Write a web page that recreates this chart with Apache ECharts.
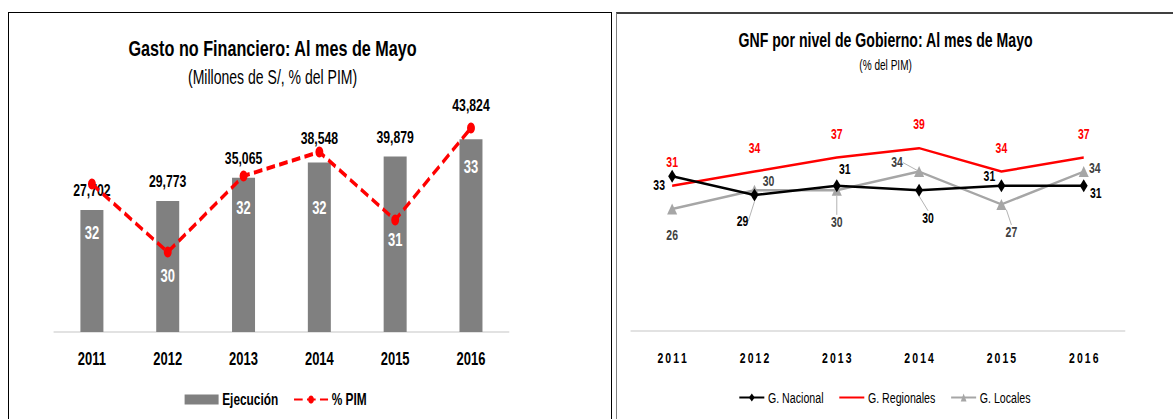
<!DOCTYPE html>
<html>
<head>
<meta charset="utf-8">
<script src="https://cdn.jsdelivr.net/npm/echarts@6/dist/echarts.min.js"></script>
<style>
  html, body { margin: 0; padding: 0; background: #fff; overflow: hidden; }
  /* el original de excel esta comprimido horizontalmente */
  #chart { position: absolute; left: 0; top: 0; width: 1629px; height: 419px; transform: scaleX(0.72); transform-origin: 0 0; }
  .panel { position: absolute; box-sizing: border-box; }
  #left-box { left: 8px; top: 12px; width: 604px; height: 420px; border: 1.5px solid #000; border-bottom: none; }
  #right-box { left: 616px; top: 12px; width: 560px; height: 420px; border-left: 1.5px solid #808080; border-top: 2px solid #404040; }
</style>
</head>
<body>
<div class="panel" id="left-box"></div>
<div class="panel" id="right-box"></div>
<div id="chart"></div>
<script>
var years = ['2011', '2012', '2013', '2014', '2015', '2016'];

// grafico 1: gasto no financiero
var ejecucion = [27702, 29773, 35065, 38548, 39879, 43824];
var pim = [31.6, 29.9, 31.8, 32.4, 30.7, 33.0];

// grafico 2: por nivel de gobierno (% del PIM)
var gNacional = [33, 29, 31, 30, 31, 31];
var gRegionales = [31, 34, 37, 39, 34, 37];
var gLocales = [26, 30, 30, 34, 27, 34];

// desplazamiento de etiquetas (como en el excel)
var barLabelDy = [0, 0, 0, -5, 0, -14];
var pimLabelDy = [49, 24, 32, 56, 20, 39];
var nacLabelMove = [[-13, 9], [-12, 26], [8, -16], [9, 28], [-12, -9], [12, 8]];
var locLabelMove = [[0, 26], [14, -9], [0, 32], [-22, -9], [10, 28], [11, -3]];
var nacLeader = [false, true, false, true, false, false];
var locLeader = [false, false, true, true, true, false];

var S = 0.72;      // mismo valor que el scaleX del css
var W = 1173 / S;  // ancho interno del grafico
function sx(px) { return px / S; }

var FONT = 'sans-serif';

function miles(v) {
  return String(v).replace(/\B(?=(\d{3})+(?!\d))/g, ',');
}

function spaced(s) {
  return s.split('').join('\u2009');
}

var myChart = echarts.init(document.getElementById('chart'), null, { renderer: 'svg' });

var option = {
  animation: false,
  backgroundColor: 'transparent',
  textStyle: { fontFamily: FONT },
  title: [
    {
      text: 'Gasto no Financiero: Al mes de Mayo',
      subtext: '(Millones de S/, % del PIM)',
      left: sx(269), top: 31, textAlign: 'center',
      itemGap: 9,
      textStyle: { fontSize: 22.5, fontWeight: 'bold', color: '#000' },
      subtextStyle: { fontSize: 19.5, color: '#000' }
    },
    {
      text: 'GNF por nivel de Gobierno: Al mes de Mayo',
      subtext: '(% del PIM)',
      left: sx(882), top: 26, textAlign: 'center',
      itemGap: 7,
      textStyle: { fontSize: 19.6, fontWeight: 'bold', color: '#000' },
      subtextStyle: { fontSize: 14, color: '#000' }
    }
  ],
  legend: [
    {
      data: [{ name: 'Ejecución', icon: 'rect' }, '% PIM'],
      left: sx(181), top: 386,
      itemWidth: sx(34), itemHeight: 10, itemGap: sx(15),
      textStyle: { fontSize: 16.5, fontWeight: 'bold', color: '#000' }
    },
    {
      data: ['G. Nacional', { name: 'G. Regionales', itemStyle: { opacity: 0 } }, 'G. Locales'],
      left: sx(735), top: 385,
      itemWidth: sx(25), itemHeight: 10, itemGap: sx(15),
      textStyle: { fontSize: 14.8, color: '#000' }
    }
  ],
  grid: [
    { left: sx(54), right: W - sx(509), top: 112, bottom: 87 },
    { left: sx(631), right: W - sx(1125), top: 120, bottom: 88 }
  ],
  xAxis: [
    {
      type: 'category', gridIndex: 0, data: years,
      axisLine: { lineStyle: { color: '#d9d9d9', width: 1.5 } },
      axisTick: { show: false },
      axisLabel: { margin: 18, fontSize: 18, fontWeight: 'bold', color: '#000' }
    },
    {
      type: 'category', gridIndex: 1, data: years,
      axisLine: { lineStyle: { color: '#d9d9d9', width: 1.5 } },
      axisTick: { show: false },
      axisLabel: {
        margin: 20, fontSize: 14.5, fontWeight: 'bold', color: '#000',
        formatter: spaced
      }
    }
  ],
  yAxis: [
    { type: 'value', gridIndex: 0, min: 0, max: 50000, show: false },
    { type: 'value', gridIndex: 0, min: 27.9, max: 33.4, show: false },
    { type: 'value', gridIndex: 1, min: 0, max: 45, show: false }
  ],
  series: [
    {
      name: 'Ejecución', type: 'bar', xAxisIndex: 0, yAxisIndex: 0,
      barWidth: sx(23),
      itemStyle: { color: '#808080' },
      data: ejecucion.map(function (v, i) {
        return { value: v, label: { offset: [0, barLabelDy[i]] } };
      }),
      label: {
        show: true, position: 'top', distance: 11,
        fontSize: 17, fontWeight: 'bold', color: '#000',
        formatter: function (p) { return miles(p.value); }
      }
    },
    {
      name: '% PIM', type: 'line', xAxisIndex: 0, yAxisIndex: 1,
      symbol: 'circle', symbolSize: 11,
      lineStyle: { color: '#ff0000', width: 4, type: [12, 6] },
      itemStyle: { color: '#ff0000' },
      data: pim.map(function (v, i) {
        return { value: v, label: { offset: [0, pimLabelDy[i]] } };
      }),
      label: {
        show: true, position: 'inside',
        fontSize: 18, fontWeight: 'bold', color: '#fff',
        formatter: function (p) { return Math.round(p.value); }
      },
      z: 5
    },
    {
      name: 'G. Regionales', type: 'line', xAxisIndex: 1, yAxisIndex: 2,
      symbol: 'circle', symbolSize: 0,
      lineStyle: { color: '#ff0000', width: 2.5 },
      itemStyle: { color: '#ff0000' },
      data: gRegionales,
      label: {
        show: true, position: 'top', distance: 16,
        fontSize: 14.5, fontWeight: 'bold', color: '#ff0000'
      }
    },
    {
      name: 'G. Locales', type: 'line', xAxisIndex: 1, yAxisIndex: 2,
      symbol: 'triangle', symbolSize: [14, 11],
      lineStyle: { color: '#a6a6a6', width: 2.5 },
      itemStyle: { color: '#a6a6a6' },
      data: gLocales.map(function (v, i) {
        return { value: v, labelLine: { show: locLeader[i] } };
      }),
      label: {
        show: true, position: 'inside',
        fontSize: 14.5, fontWeight: 'bold', color: '#404040'
      },
      labelLine: { lineStyle: { color: '#a6a6a6', width: 1 } },
      labelLayout: function (p) {
        return { dx: sx(locLabelMove[p.dataIndex][0]), dy: locLabelMove[p.dataIndex][1] };
      }
    },
    {
      name: 'G. Nacional', type: 'line', xAxisIndex: 1, yAxisIndex: 2,
      symbol: 'diamond', symbolSize: [11, 13],
      lineStyle: { color: '#000', width: 2.5 },
      itemStyle: { color: '#000' },
      data: gNacional.map(function (v, i) {
        return { value: v, labelLine: { show: nacLeader[i] } };
      }),
      label: {
        show: true, position: 'inside',
        fontSize: 14.5, fontWeight: 'bold', color: '#000'
      },
      labelLine: { lineStyle: { color: '#a6a6a6', width: 1 } },
      labelLayout: function (p) {
        return { dx: sx(nacLabelMove[p.dataIndex][0]), dy: nacLabelMove[p.dataIndex][1] };
      },
      z: 4
    }
  ]
};

myChart.setOption(option);
</script>
</body>
</html>
